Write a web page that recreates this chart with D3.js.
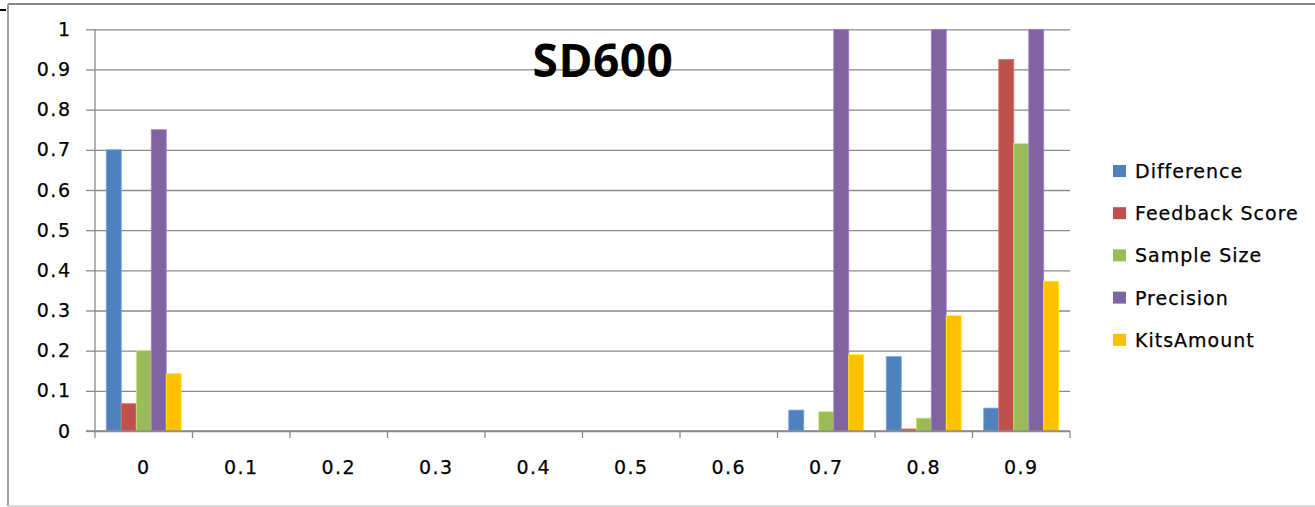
<!DOCTYPE html>
<html>
<head>
<meta charset="utf-8">
<script src="https://cdn.jsdelivr.net/npm/d3@7"></script>
<style>
  html, body { margin: 0; padding: 0; background: #fff; }
  svg { display: block; }
  .lbl { font-family: "DejaVu Sans", sans-serif; font-size: 19px; fill: #000; stroke: #000; stroke-width: 0.25px; }
</style>
</head>
<body>
<svg id="chart" width="1315" height="507"></svg>
<script>
// Chart data
const title = "SD600";
const categories = ["0", "0.1", "0.2", "0.3", "0.4", "0.5", "0.6", "0.7", "0.8", "0.9"];
const seriesNames = ["Difference", "Feedback Score", "Sample Size", "Precision", "KitsAmount"];
const difference    = [0.7,   0, 0, 0, 0, 0, 0, 0.052, 0.185, 0.057];
const feedbackScore = [0.068, 0, 0, 0, 0, 0, 0, 0,     0.005, 0.925];
const sampleSize    = [0.2,   0, 0, 0, 0, 0, 0, 0.048, 0.032, 0.716];
const precision     = [0.75,  0, 0, 0, 0, 0, 0, 1,     1,     1];
const kitsAmount    = [0.143, 0, 0, 0, 0, 0, 0, 0.19,  0.287, 0.373];
const yTicks = [0, 0.1, 0.2, 0.3, 0.4, 0.5, 0.6, 0.7, 0.8, 0.9, 1];
const yTickLabels = ["0", "0.1", "0.2", "0.3", "0.4", "0.5", "0.6", "0.7", "0.8", "0.9", "1"];

const seriesValues = [difference, feedbackScore, sampleSize, precision, kitsAmount];
const colors = ["#4F81BD", "#C0504D", "#9BBB59", "#8064A2", "#FFC000"];

(function draw() {
  const svg = d3.select("#chart");

  // Outer chart frame
  svg.append("line").attr("x1", 8).attr("x2", 1315).attr("y1", 4).attr("y2", 4)
    .attr("stroke", "#8a8a8a").attr("stroke-width", 2);
  svg.append("line").attr("x1", 8).attr("x2", 8).attr("y1", 4).attr("y2", 506)
    .attr("stroke", "#a0a0a0").attr("stroke-width", 2);
  svg.append("line").attr("x1", 8).attr("x2", 1315).attr("y1", 506).attr("y2", 506)
    .attr("stroke", "#cfcfcf").attr("stroke-width", 1.5);
  svg.append("line").attr("x1", 0).attr("x2", 6).attr("y1", 10).attr("y2", 10)
    .attr("stroke", "#000").attr("stroke-width", 2);

  // Plot area
  const plotL = 95, plotR = 1070, plotT = 29.3, plotB = 431;

  const x = d3.scaleBand().domain(categories).range([plotL, plotR]).padding(0);
  const bw = x.bandwidth();
  const edge = bw * 0.75 / 6.5;
  const xs = d3.scaleBand().domain(seriesNames).range([edge, bw - edge]).padding(0);
  const y = d3.scaleLinear().domain([0, 1]).range([plotB, plotT]);

  // Horizontal gridlines
  const grid = svg.append("g").attr("transform", `translate(${plotL},0)`)
    .call(d3.axisLeft(y).tickValues(yTicks).tickSize(-(plotR - plotL)).tickFormat(""));
  grid.select(".domain").remove();
  grid.selectAll(".tick line").attr("stroke", "#8a8a8a").attr("stroke-width", 1.3);

  // Y axis with labels
  const yAxis = svg.append("g").attr("transform", `translate(${plotL},0)`)
    .call(d3.axisLeft(y).tickValues(yTicks).tickSize(9).tickPadding(16)
      .tickFormat((d, i) => yTickLabels[i]));
  yAxis.select(".domain").attr("stroke", "#8a8a8a").attr("stroke-width", 1.3)
    .attr("d", `M0,${plotT}V${plotB}`);
  yAxis.selectAll(".tick line").attr("stroke", "#8a8a8a").attr("stroke-width", 1.3);
  yAxis.selectAll("text").attr("class", "lbl").attr("letter-spacing", "1.5px")
    .attr("dx", "1.5px");

  // Bars
  const groups = svg.append("g").selectAll("g")
    .data(categories)
    .join("g")
    .attr("transform", d => `translate(${x(d)},0)`);

  groups.selectAll("rect")
    .data((c, ci) => seriesNames.map((s, si) => ({ s, si, v: seriesValues[si][ci] })).filter(d => d.v > 0))
    .join("rect")
    .attr("x", d => xs(d.s))
    .attr("width", xs.bandwidth())
    .attr("y", d => y(d.v))
    .attr("height", d => y(0) - y(d.v))
    .attr("fill", d => colors[d.si])
    .attr("stroke", d => d3.color(colors[d.si]).brighter(0.7))
    .attr("stroke-width", 0.8);

  // X axis: baseline, boundary ticks and category labels
  const xAxis = svg.append("g").attr("transform", `translate(0,${plotB})`)
    .call(d3.axisBottom(x).tickSize(0).tickPadding(30));
  xAxis.select(".domain").remove();
  xAxis.selectAll("text").attr("class", "lbl").attr("letter-spacing", "1.5px");
  xAxis.append("line").attr("x1", plotL - 9).attr("x2", plotR).attr("y1", 0).attr("y2", 0)
    .attr("stroke", "#8a8a8a").attr("stroke-width", 1.3);
  xAxis.selectAll(".bound")
    .data(categories.map(c => x(c)).concat([x(categories[categories.length - 1]) + bw]))
    .join("line")
    .attr("class", "bound")
    .attr("x1", d => d).attr("x2", d => d)
    .attr("y1", 0).attr("y2", 7)
    .attr("stroke", "#8a8a8a").attr("stroke-width", 1.3);

  // Title
  svg.append("text")
    .attr("x", 603).attr("y", 77)
    .attr("text-anchor", "middle")
    .attr("font-family", "'Open Sans', sans-serif")
    .attr("font-weight", 700)
    .attr("font-size", 46)
    .attr("letter-spacing", "0.5px")
    .attr("fill", "#000")
    .text(title);

  // Legend
  const legend = svg.append("g").attr("transform", "translate(1113,171)");
  const items = legend.selectAll("g").data(seriesNames).join("g")
    .attr("transform", (d, i) => `translate(0,${i * 42.2})`);
  items.append("rect").attr("x", 0).attr("y", -6).attr("width", 13).attr("height", 12)
    .attr("fill", (d, i) => colors[i]);
  items.append("text").attr("class", "lbl").attr("x", 22).attr("y", 7)
    .attr("letter-spacing", "1px")
    .text(d => d);
})();
</script>
</body>
</html>
